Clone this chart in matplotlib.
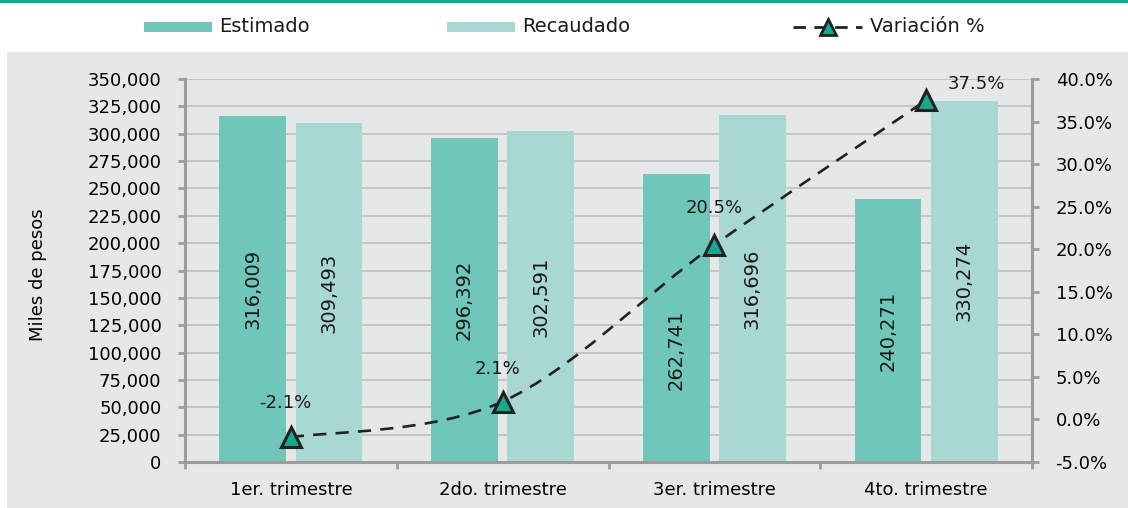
import matplotlib
matplotlib.use("Agg")
import matplotlib.pyplot as plt
from matplotlib.patches import Rectangle, PathPatch
from matplotlib.lines import Line2D
from matplotlib.path import Path
import numpy as np

categories = ["1er. trimestre", "2do. trimestre", "3er. trimestre", "4to. trimestre"]
estimado = [316009, 296392, 262741, 240271]
recaudado = [309493, 302591, 316696, 330274]
variacion = [-2.1, 2.1, 20.5, 37.5]
left_ticks = list(range(0, 350001, 25000))
right_ticks = [-5, 0, 5, 10, 15, 20, 25, 30, 35, 40]

C_EST = "#6fc6b9"
C_REC = "#a9d7d1"
C_MARK = "#17a88f"
C_LINE = "#222222"
C_GRID = "#c2c2c2"
C_SPINE = "#9c9c9c"
C_BG = "#e6e7e8"
C_TOP = "#1aa58f"

plt.rcParams['font.family'] = ['DejaVu Sans']
W, H = 1128, 508
fig = plt.figure(figsize=(W / 100, H / 100), dpi=100)
fig.patch.set_facecolor("white")

# background panel and top rule
fig.add_artist(Rectangle((7 / W, 0), 1 - 7 / W, 1 - 52 / H, transform=fig.transFigure,
                         facecolor=C_BG, edgecolor="none", zorder=0))
fig.add_artist(Rectangle((0, 1 - 2.5 / H), 1, 2.5 / H, transform=fig.transFigure,
                         facecolor=C_TOP, edgecolor="none", zorder=0))

left, right, bottom, top = 185, 1032, 462, 79
ax = fig.add_axes([left / W, 1 - bottom / H, (right - left) / W, (bottom - top) / H])
ax.patch.set_alpha(0)

x = np.arange(len(categories))
bw = 0.315
off = 0.18
ax.bar(x - off, estimado, bw, color=C_EST, zorder=2)
ax.bar(x + off, recaudado, bw, color=C_REC, zorder=2)

ax.set_xlim(-0.5, len(categories) - 0.5)
ax.set_ylim(0, 350000)
ax.set_yticks(left_ticks)
ax.set_yticklabels([f"{v:,}" for v in left_ticks], fontsize=13)
ax.yaxis.grid(True, color=C_GRID, lw=1.3)
ax.set_axisbelow(True)

ax.set_xticks(np.arange(-0.5, len(categories), 1.0))
ax.set_xticklabels([])
ax.set_xticks(x, minor=True)
ax.set_xticklabels(categories, minor=True, fontsize=13)
ax.tick_params(axis="x", which="minor", length=0, pad=14)
ax.tick_params(axis="x", which="major", length=5, width=2, color=C_SPINE, direction="out")
ax.tick_params(axis="y", length=5, width=2, color=C_SPINE, pad=12)

for s in ["top", "right"]:
    ax.spines[s].set_visible(False)
for s in ["left", "bottom"]:
    ax.spines[s].set_color(C_SPINE)
    ax.spines[s].set_linewidth(2.2)

ax.set_ylabel("Miles de pesos", fontsize=13)
ax.yaxis.set_label_coords(-0.163, 0.49)

# bar value labels
label_frac_est = [0.5, 0.5, 0.39, 0.5]
for i, v in enumerate(estimado):
    ax.text(x[i] - off, v * label_frac_est[i], f"{v:,}", rotation=90, ha="center",
            va="center", fontsize=14, color="#1a1a1a", zorder=3)
for i, v in enumerate(recaudado):
    ax.text(x[i] + off, v * 0.5, f"{v:,}", rotation=90, ha="center",
            va="center", fontsize=14, color="#1a1a1a", zorder=3)

# secondary axis
ax2 = ax.twinx()
ax2.set_ylim(-5, 40)
ax2.set_yticks(right_ticks)
ax2.set_yticklabels([f"{v:.1f}%" for v in right_ticks], fontsize=13)
ax2.tick_params(axis="y", length=5, width=2, color=C_SPINE, pad=12)
for s in ["top", "left", "bottom"]:
    ax2.spines[s].set_visible(False)
ax2.spines["right"].set_color(C_SPINE)
ax2.spines["right"].set_linewidth(2.2)

# smooth line (Catmull-Rom style bezier through data points)
pts = np.column_stack([x.astype(float), np.array(variacion, dtype=float)])
n = len(pts)
verts = [tuple(pts[0])]
codes = [Path.MOVETO]
for i in range(n - 1):
    p0 = pts[max(i - 1, 0)]
    p1 = pts[i]
    p2 = pts[i + 1]
    p3 = pts[min(i + 2, n - 1)]
    c1 = p1 + (p2 - p0) / 6.0
    c2 = p2 - (p3 - p1) / 6.0
    verts += [tuple(c1), tuple(c2), tuple(p2)]
    codes += [Path.CURVE4] * 3
path = Path(verts, codes)
ax2.add_patch(PathPatch(path, facecolor="none", edgecolor=C_LINE, lw=1.9,
                        linestyle=(0, (5, 3.5)), zorder=4))
ax2.plot(x, variacion, linestyle="none", marker="^", markersize=14,
         markerfacecolor=C_MARK, markeredgecolor=C_LINE, markeredgewidth=2.2, zorder=5)

offsets = [(-6, 34), (-5, 33), (0, 37), (50, 16)]
for i, v in enumerate(variacion):
    ax2.annotate(f"{v:.1f}%", (x[i], v), xytext=offsets[i], textcoords="offset pixels",
                 ha="center", va="center", fontsize=13, color="#1a1a1a", zorder=6)

# legend (manual)
ly = 1 - 27 / H
fig.add_artist(Rectangle((144 / W, 1 - 32 / H), 68 / W, 10 / H, transform=fig.transFigure,
                         facecolor=C_EST, edgecolor="none"))
fig.text(219 / W, ly, "Estimado", fontsize=14, va="center", ha="left", color="#1a1a1a")
fig.add_artist(Rectangle((447 / W, 1 - 32 / H), 68 / W, 10 / H, transform=fig.transFigure,
                         facecolor=C_REC, edgecolor="none"))
fig.text(522 / W, ly, "Recaudado", fontsize=14, va="center", ha="left", color="#1a1a1a")
fig.add_artist(Line2D([793 / W, 862 / W], [ly, ly], transform=fig.transFigure,
                      color=C_LINE, lw=2.0, linestyle=(0, (4.5, 3))))
fig.add_artist(Line2D([828 / W], [ly], transform=fig.transFigure, linestyle="none",
                      marker="^", markersize=12, markerfacecolor=C_MARK,
                      markeredgecolor=C_LINE, markeredgewidth=2))
fig.text(870 / W, ly, "Variación %", fontsize=14, va="center", ha="left", color="#1a1a1a")

fig.savefig("out.png", dpi=100)
